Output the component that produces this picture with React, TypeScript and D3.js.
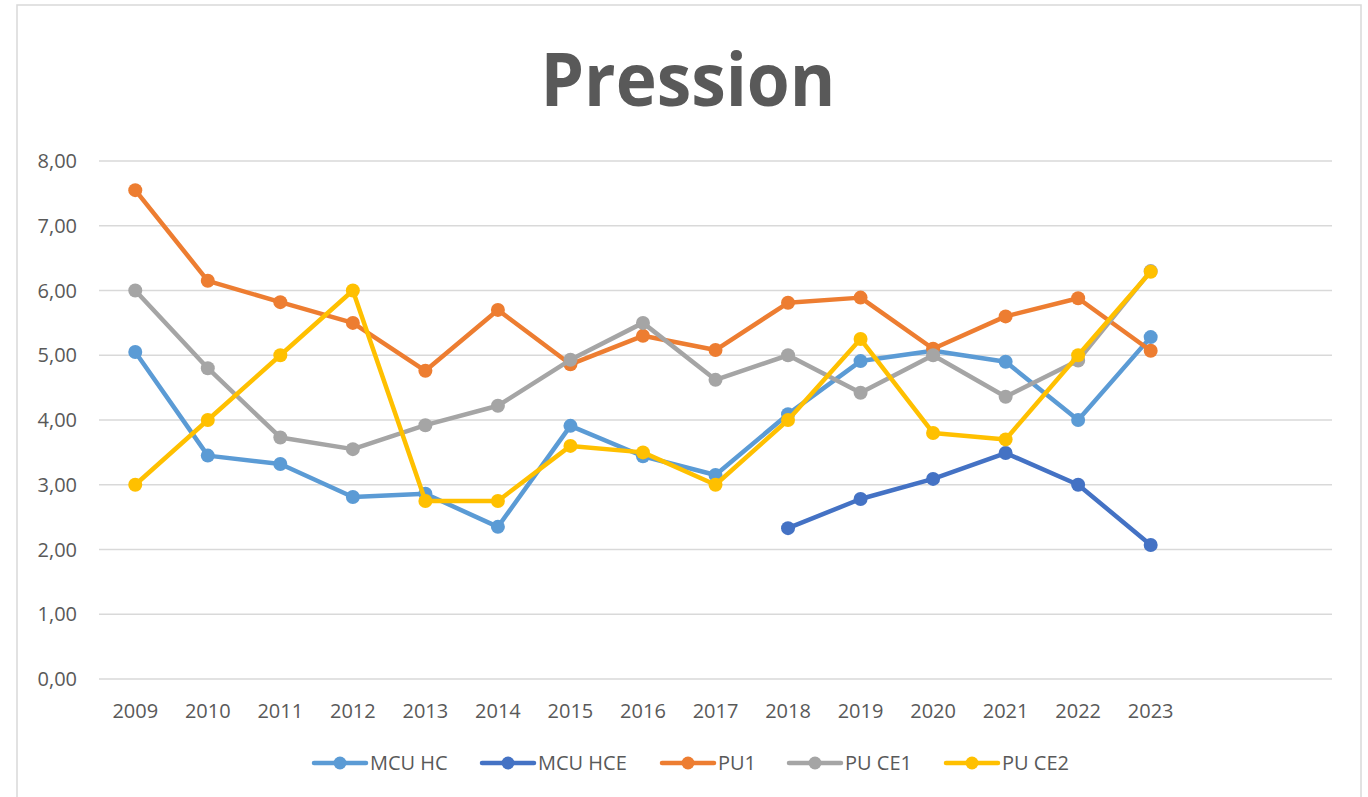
import React from "react";
import * as d3 from "d3";

const categories = ["2009","2010","2011","2012","2013","2014","2015","2016","2017","2018","2019","2020","2021","2022","2023","",""];
const yTicks = [0, 1, 2, 3, 4, 5, 6, 7, 8];

const mcuHC = [5.05, 3.45, 3.32, 2.81, 2.86, 2.35, 3.91, 3.44, 3.15, 4.09, 4.91, 5.07, 4.9, 4.0, 5.28, null, null];
const mcuHCE = [null, null, null, null, null, null, null, null, null, 2.33, 2.78, 3.09, 3.49, 3.0, 2.07, null, null];
const pu1 = [7.55, 6.15, 5.82, 5.5, 4.76, 5.7, 4.86, 5.3, 5.08, 5.81, 5.89, 5.1, 5.6, 5.88, 5.07, null, null];
const puCE1 = [6.0, 4.8, 3.73, 3.55, 3.92, 4.22, 4.93, 5.5, 4.62, 5.0, 4.42, 5.0, 4.36, 4.92, 6.3, null, null];
const puCE2 = [3.0, 4.0, 5.0, 6.0, 2.75, 2.75, 3.6, 3.5, 3.0, 4.0, 5.25, 3.8, 3.7, 5.0, 6.29, null, null];

const seriesNames = ["MCU HC", "MCU HCE", "PU1", "PU CE1", "PU CE2"];
const seriesValues = [mcuHC, mcuHCE, pu1, puCE1, puCE2];
const seriesColors = ["#5b9bd5", "#4472c4", "#ed7d31", "#a5a5a5", "#ffc000"];

const W = 1368, H = 797;
const plot = { left: 99, right: 1332, top: 161, bottom: 679 };
const textColor = "#595959";
const font = "'Open Sans', 'Noto Sans', sans-serif";

export default function App() {
  const x = d3.scaleBand<number>().domain(d3.range(categories.length)).range([plot.left, plot.right]).paddingInner(0).paddingOuter(0);
  const y = d3.scaleLinear().domain([0, 8]).range([plot.bottom, plot.top]);
  const cx = (i: number) => (x(i) as number) + x.bandwidth() / 2;
  const line = d3.line<number | null>()
    .defined((d) => d !== null)
    .x((_, i) => cx(i))
    .y((d) => y(d as number));

  const legendItems = [
    { x: 312, tw: 0 },
    { x: 480, tw: 0 },
    { x: 660, tw: 0 },
    { x: 787, tw: 0 },
    { x: 944, tw: 0 },
  ];

  return (
    <svg width={W} height={H} style={{ position: "absolute", left: 0, top: 0, background: "#fff" }} fontFamily={font}>
      <rect x={0} y={0} width={W} height={H} fill="#fff" />
      <rect x={17} y={5} width={1344} height={H + 20} fill="#fff" stroke="#d9d9d9" strokeWidth={1.5} />
      <text x={688} y={106} textAnchor="middle" fontSize={74} fontWeight={700} fill={textColor} textLength={295} lengthAdjust="spacingAndGlyphs">Pression</text>
      {yTicks.map((t) => (
        <g key={t}>
          <line x1={plot.left} x2={plot.right} y1={y(t)} y2={y(t)} stroke="#d9d9d9" strokeWidth={1.5} />
          <text x={77} y={y(t)} dy="0.36em" textAnchor="end" fontSize={20} fill={textColor}>
            {d3.format(".2f")(t).replace(".", ",")}
          </text>
        </g>
      ))}
      {categories.map((c, i) => (
        <text key={i} x={cx(i)} y={718} textAnchor="middle" fontSize={20} fill={textColor}>{c}</text>
      ))}
      {seriesValues.map((vals, s) => (
        <g key={s}>
          <path d={line(vals) || ""} fill="none" stroke={seriesColors[s]} strokeWidth={4.5} strokeLinejoin="round" strokeLinecap="round" />
          {vals.map((v, i) => v === null ? null : (
            <circle key={i} cx={cx(i)} cy={y(v)} r={7} fill={seriesColors[s]} />
          ))}
        </g>
      ))}
      {seriesNames.map((n, s) => (
        <g key={n} transform={`translate(${legendItems[s].x},763)`}>
          <line x1={2} x2={54} y1={0} y2={0} stroke={seriesColors[s]} strokeWidth={4.5} strokeLinecap="round" />
          <circle cx={28} cy={0} r={6.5} fill={seriesColors[s]} />
          <text x={58} y={0} dy="0.36em" fontSize={20} fill={textColor}>{n}</text>
        </g>
      ))}
    </svg>
  );
}
